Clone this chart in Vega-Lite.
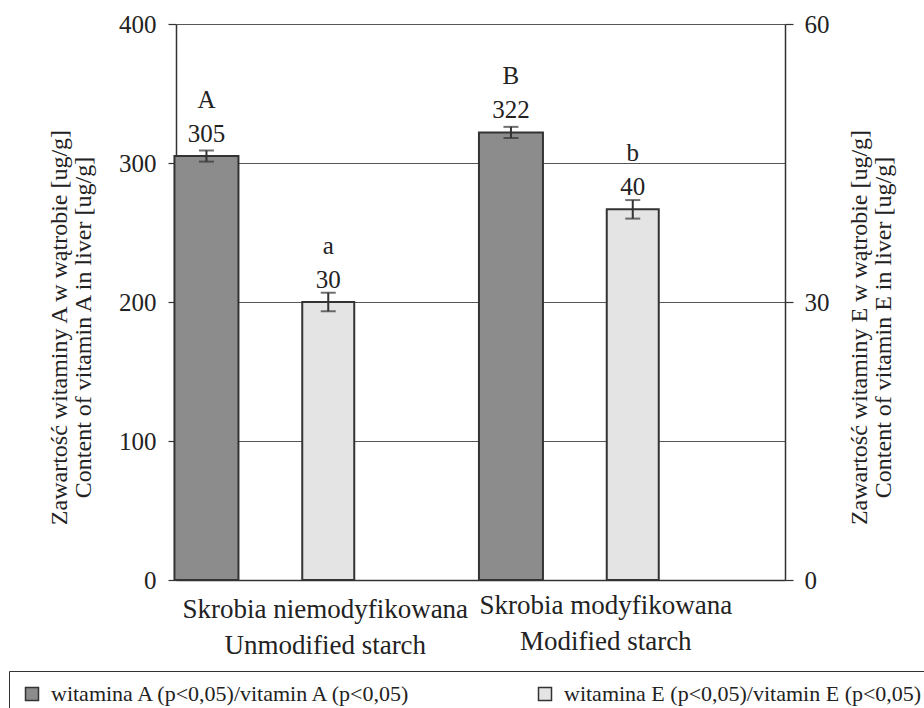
{
  "$schema": "https://vega.github.io/schema/vega-lite/v6.json",
  "width": 609,
  "height": 556,
  "autosize": {"type": "none"},
  "padding": {"left": 176, "top": 24, "right": 139, "bottom": 128},
  "background": "white",
  "data": {
    "values": [
      {"grp": "Skrobia niemodyfikowana|Unmodified starch", "series": "A", "value": 305, "lo": 301, "hi": 309, "sig": "A"},
      {"grp": "Skrobia niemodyfikowana|Unmodified starch", "series": "E", "value": 30, "lo": 29, "hi": 31, "sig": "a"},
      {"grp": "Skrobia modyfikowana|Modified starch", "series": "A", "value": 322, "lo": 318, "hi": 326, "sig": "B"},
      {"grp": "Skrobia modyfikowana|Modified starch", "series": "E", "value": 40, "lo": 39, "hi": 41, "sig": "b"}
    ]
  },
  "config": {
    "font": "Liberation Serif",
    "view": {"stroke": null},
    "axis": {
      "domainColor": "#333",
      "domainWidth": 1.5,
      "tickColor": "#333",
      "tickSize": 8,
      "tickWidth": 1.2,
      "labelFont": "Liberation Serif",
      "labelFontSize": 25,
      "labelColor": "#222",
      "titleFont": "Liberation Serif",
      "titleFontSize": 24,
      "titleFontWeight": "normal",
      "titleColor": "#222",
      "titleLineHeight": 24,
      "gridColor": "#555",
      "gridWidth": 1
    },
    "legend": {
      "labelFont": "Liberation Serif"
    }
  },
  "encoding": {
    "x": {
      "field": "grp",
      "type": "nominal",
      "sort": null,
      "scale": {"domain": ["Skrobia niemodyfikowana|Unmodified starch", "Skrobia modyfikowana|Modified starch"], "paddingInner": 0, "paddingOuter": 0},
      "axis": {
        "title": null,
        "orient": "bottom",
        "ticks": false,
        "grid": false,
        "labelAngle": 0,
        "labelExpr": "split(datum.label, '|')",
        "labelFontSize": 27,
        "labelLineHeight": 36,
        "labelBaseline": "top",
        "labelPadding": {"condition": {"test": "indexof(datum.value, 'Skrobia modyfikowana') >= 0", "value": 12}, "value": 16},
        "labelOffset": {"condition": {"test": "indexof(datum.value, 'Skrobia modyfikowana') >= 0", "value": -27}, "value": -3},
        "labelLimit": 400
      }
    },
    "xOffset": {
      "field": "series",
      "type": "nominal",
      "scale": {"domain": ["A", "E", "_"], "paddingInner": 0.5, "paddingOuter": 0}
    }
  },
  "layer": [
    {
      "transform": [{"filter": "datum.series == 'A'"}],
      "encoding": {
        "y": {
          "field": "value",
          "type": "quantitative",
          "scale": {"domain": [0, 400]},
          "axis": {
            "orient": "left",
            "values": [0, 100, 200, 300, 400],
            "grid": true,
            "title": ["Zawartość witaminy A w wątrobie [ug/g]", "Content of vitamin A in liver [ug/g]"],
            "titleAngle": 270,
            "titleBaseline": "bottom",
            "titlePadding": 23,
            "titleY": 303,
            "labelPadding": 12
          }
        }
      },
      "layer": [
        {
          "mark": {"type": "bar", "width": 64, "stroke": "#333", "strokeWidth": 2},
          "encoding": {
            "color": {
              "field": "series",
              "type": "nominal",
              "scale": {"domain": ["A", "E"], "range": ["#8c8c8c", "#e4e4e4"]},
              "legend": {
                "title": null,
                "orient": "none",
                "legendX": -167,
                "legendY": 647,
                "direction": "horizontal",
                "columns": 2,
                "strokeColor": "#333",
                "padding": 12,
                "symbolType": "square",
                "symbolSize": 169,
                "symbolStrokeColor": "#333",
                "symbolStrokeWidth": 1.5,
                "labelFontSize": 22,
                "labelColor": "#222",
                "labelLimit": 500,
                "labelOffset": 8,
                "columnPadding": 120,
                "labelExpr": "datum.label == 'A' ? 'witamina A (p<0,05)/vitamin A (p<0,05)' : 'witamina E (p<0,05)/vitamin E (p<0,05)'"
              }
            }
          }
        },
        {
          "mark": {"type": "rule", "color": "#333", "strokeWidth": 2},
          "encoding": {"y": {"field": "lo", "type": "quantitative"}, "y2": {"field": "hi"}}
        },
        {
          "mark": {"type": "tick", "color": "#333", "size": 15, "thickness": 2, "orient": "horizontal"},
          "encoding": {"y": {"field": "lo", "type": "quantitative"}}
        },
        {
          "mark": {"type": "tick", "color": "#333", "size": 15, "thickness": 2, "orient": "horizontal"},
          "encoding": {"y": {"field": "hi", "type": "quantitative"}}
        },
        {
          "mark": {"type": "text", "dy": -14, "baseline": "alphabetic", "fontSize": 25, "color": "#222"},
          "encoding": {"text": {"field": "value", "type": "quantitative"}}
        },
        {
          "mark": {"type": "text", "dy": -48, "baseline": "alphabetic", "fontSize": 25, "color": "#222"},
          "encoding": {"text": {"field": "sig", "type": "nominal"}}
        }
      ]
    },
    {
      "transform": [{"filter": "datum.series == 'E'"}],
      "encoding": {
        "y": {
          "field": "value",
          "type": "quantitative",
          "scale": {"domain": [0, 60]},
          "axis": {
            "orient": "right",
            "values": [0, 30, 60],
            "grid": false,
            "title": ["Zawartość witaminy E w wątrobie [ug/g]", "Content of vitamin E in liver [ug/g]"],
            "titleAngle": 270,
            "titleBaseline": "top",
            "titlePadding": -6,
            "titleY": 303,
            "labelPadding": 11
          }
        }
      },
      "layer": [
        {
          "mark": {"type": "bar", "width": 52, "stroke": "#333", "strokeWidth": 2},
          "encoding": {
            "color": {
              "field": "series",
              "type": "nominal",
              "scale": {"domain": ["A", "E"], "range": ["#8c8c8c", "#e4e4e4"]}
            }
          }
        },
        {
          "mark": {"type": "rule", "color": "#333", "strokeWidth": 2},
          "encoding": {"y": {"field": "lo", "type": "quantitative"}, "y2": {"field": "hi"}}
        },
        {
          "mark": {"type": "tick", "color": "#333", "size": 15, "thickness": 2, "orient": "horizontal"},
          "encoding": {"y": {"field": "lo", "type": "quantitative"}}
        },
        {
          "mark": {"type": "tick", "color": "#333", "size": 15, "thickness": 2, "orient": "horizontal"},
          "encoding": {"y": {"field": "hi", "type": "quantitative"}}
        },
        {
          "mark": {"type": "text", "dy": -14, "baseline": "alphabetic", "fontSize": 25, "color": "#222"},
          "encoding": {"text": {"field": "value", "type": "quantitative"}}
        },
        {
          "mark": {"type": "text", "dy": -48, "baseline": "alphabetic", "fontSize": 25, "color": "#222"},
          "encoding": {"text": {"field": "sig", "type": "nominal"}}
        }
      ]
    }
  ],
  "resolve": {"scale": {"y": "independent"}, "axis": {"y": "independent"}}
}
